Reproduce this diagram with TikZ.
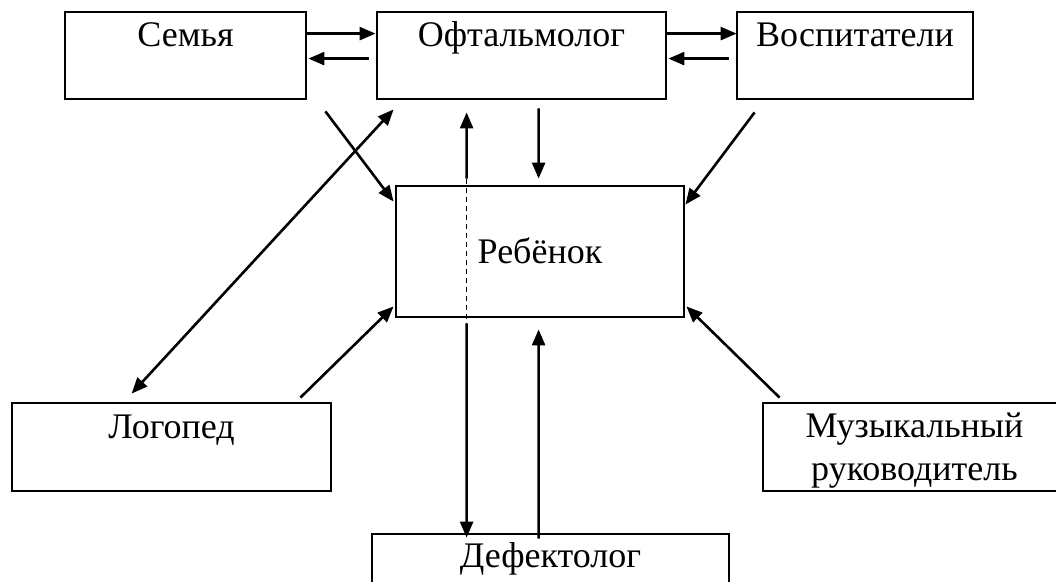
\documentclass[tikz,border=0pt]{standalone}
\usepackage{fontspec}
\setmainfont{Liberation Serif}
\usetikzlibrary{arrows.meta,calc}
\begin{document}
\begin{tikzpicture}[x=1bp,y=-1bp,
  box/.style={draw,line width=2.8bp,rectangle,inner sep=0pt},
  lbl/.style={anchor=base,inner sep=0pt,font=\fontsize{36bp}{44bp}\selectfont,align=center},
  arr/.style={line width=2.6bp,-{Triangle[length=16bp,width=13bp]}},
  darr/.style={line width=2.6bp,{Triangle[length=16bp,width=13bp]}-{Triangle[length=16bp,width=13bp]}},
  dsh/.style={line width=1.3bp,dash pattern=on 5bp off 4bp}]
\useasboundingbox (0,0) rectangle (1056,582);
\clip (0,0) rectangle (1056,582);
% boxes
\node[box,minimum width=241bp,minimum height=87bp] (semya) at (185.5,55.5) {};
\node[box,minimum width=289bp,minimum height=87bp] (oft) at (521.5,55.5) {};
\node[box,minimum width=236bp,minimum height=87bp] (vosp) at (855,55.5) {};
\node[box,minimum width=288bp,minimum height=131bp] (reb) at (540,251.5) {};
\node[box,minimum width=319bp,minimum height=88bp] (logo) at (171.5,447) {};
\node[box,minimum width=303bp,minimum height=88bp] (muz) at (914.5,447) {};
\node[box,minimum width=357bp,minimum height=86bp] (def) at (550.5,577) {};
% labels
\node[lbl] (tsemya) at (185.5,47) {Семья};
\node[lbl] (toft) at (521.5,47) {Офтальмолог};
\node[lbl] (tvosp) at (855,47) {Воспитатели};
\node[lbl] (treb) at (540,264) {Ребёнок};
\node[lbl] (tlogo) at (171.5,438) {Логопед};
\node[lbl] (tmuz1) at (914.5,437) {Музыкальный};
\node[lbl] (tmuz2) at (914.5,480) {руководитель};
\node[lbl] (tdef) at (550.5,567) {Дефектолог};
% horizontal arrows
\draw[arr] ($(semya.north east)+(0,23)$) -- ($(oft.north west)+(0,23)$);
\draw[arr] ($(oft.north west)+(-7,48)$) -- ($(semya.north east)+(1,48)$);
\draw[arr] ($(oft.north east)+(0,23)$) -- ($(vosp.north west)+(1,23)$);
\draw[arr] ($(vosp.north west)+(-7,48)$) -- ($(oft.north east)+(1,48)$);
% diagonal arrows to child
\draw[arr] ($(semya.south east)+(18,11)$) -- ($(reb.north west)+(-1,17)$);
\draw[arr] ($(vosp.south west)+(19,12)$) -- ($(reb.north east)+(0,20)$);
\draw[arr] ($(logo.north east)+(-32,-4)$) -- ($(reb.south west)+(-1,-12)$);
\draw[arr] ($(muz.north west)+(18,-4)$) -- ($(reb.south east)+(1,-12)$);
% logoped <-> oftalmolog
\draw[darr] ($(logo.north west)+(121,-8)$) -- ($(oft.south west)+(18,9)$);
% oftalmolog -> child
\draw[arr] ($(oft.south west)+(163,8)$) -- ($(reb.north west)+(144,-6)$);
% vertical line through child
\draw[arr] ($(reb.north west)+(72,-6)$) -- ($(oft.south west)+(91,12)$);
\draw[dsh] ($(reb.north west)+(72,-6)$) -- ($(reb.south west)+(72,5)$);
\draw[arr] ($(reb.south west)+(72,5)$) -- ($(def.north west)+(96,5)$);
\draw[arr] ($(def.north west)+(168,6)$) -- ($(reb.south west)+(144,11)$);
\end{tikzpicture}
\end{document}
